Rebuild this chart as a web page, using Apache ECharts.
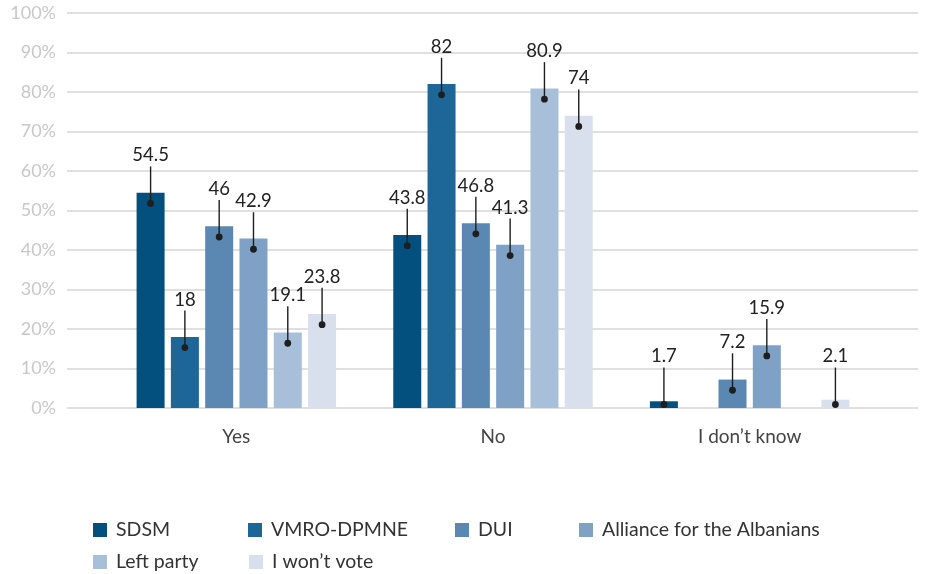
<!DOCTYPE html>
<html>
<head>
<meta charset="utf-8">
<script src="https://cdn.jsdelivr.net/npm/echarts@6/dist/echarts.min.js"></script>
<style>
  html, body { margin: 0; padding: 0; background: #fff; }
  #chart { width: 930px; height: 574px; }
</style>
</head>
<body>
<div id="chart"></div>
<script>
var categories = ["Yes", "No", "I don\u2019t know"];
var parties = ["SDSM", "VMRO-DPMNE", "DUI", "Alliance for the Albanians", "Left party", "I won\u2019t vote"];
var sdsm = [54.5, 43.8, 1.7];
var vmro = [18, 82, null];
var dui = [46, 46.8, 7.2];
var alliance = [42.9, 41.3, 15.9];
var leftParty = [19.1, 80.9, null];
var wontVote = [23.8, 74, 2.1];
var yTicks = [0, 10, 20, 30, 40, 50, 60, 70, 80, 90, 100];

var seriesValues = [sdsm, vmro, dui, alliance, leftParty, wontVote];
var colors = ["#03507f", "#1c6798", "#5b87b3", "#7fa1c5", "#a8bfd9", "#d8e0ee"];
var barW = 28;
var gapPct = 0.225;
var step = barW * (1 + gapPct);
var font = "Lato";

// leader line + dot + value label, placed with the axis scale
function labelRenderer(idx) {
  return function (params, api) {
    var v = api.value(1);
    if (v == null || isNaN(v)) return;
    var top = api.coord([api.value(0), v]);
    var base = api.coord([api.value(0), 0]);
    var x = top[0] + (idx - (parties.length - 1) / 2) * step;
    var dotY = Math.min(top[1] + 10.7, base[1] - 3.5);
    return {
      type: "group",
      children: [
        { type: "line", shape: { x1: x, y1: dotY, x2: x, y2: dotY - 37 }, style: { stroke: "#1e1e1e", lineWidth: 1.4 } },
        { type: "circle", shape: { cx: x, cy: dotY, r: 3.4 }, style: { fill: "#1e1e1e" } },
        { type: "text", x: x, y: dotY - 48, style: { text: String(v), align: "center", verticalAlign: "middle", fill: "#222", fontSize: 18.5, fontFamily: font } }
      ]
    };
  };
}

var series = [];
seriesValues.forEach(function (vals, i) {
  series.push({
    name: parties[i],
    type: "bar",
    xAxisIndex: 1,
    yAxisIndex: 1,
    barWidth: barW,
    barGap: (gapPct * 100) + "%",
    itemStyle: { color: colors[i] },
    data: vals
  });
});
seriesValues.forEach(function (vals, i) {
  series.push({
    type: "custom",
    xAxisIndex: 1,
    yAxisIndex: 1,
    z: 5,
    silent: true,
    renderItem: labelRenderer(i),
    data: vals.map(function (v, k) { return [k, v == null ? "-" : v]; })
  });
});

var legendPos = [[93, 520], [248, 520], [455, 520], [579, 520], [93, 552], [249, 552]];
var legends = parties.map(function (p, i) {
  return {
    data: [p],
    left: legendPos[i][0],
    top: legendPos[i][1],
    padding: 0,
    icon: "rect",
    itemWidth: 14,
    itemHeight: 14,
    textStyle: { fontFamily: font, fontSize: 19.5, color: "#333", lineHeight: 20, padding: [0, 0, 0, 4] }
  };
});

var chart = echarts.init(document.getElementById("chart"));
chart.setOption({
  backgroundColor: "#fff",
  animation: false,
  legend: legends,
  grid: [
    { left: 67, right: 12, top: 13, bottom: 166 },
    { left: 108, right: 52, top: 13, bottom: 166 }
  ],
  xAxis: [
    { type: "category", gridIndex: 0, show: false, data: categories },
    {
      type: "category",
      gridIndex: 1,
      data: categories,
      axisLine: { show: false },
      axisTick: { show: false },
      axisLabel: { margin: 19, fontFamily: font, fontSize: 19, color: "#444" }
    }
  ],
  yAxis: [
    {
      type: "value",
      gridIndex: 0,
      min: yTicks[0],
      max: yTicks[yTicks.length - 1],
      interval: 10,
      axisLine: { show: false },
      axisTick: { show: false },
      axisLabel: { margin: 11, fontFamily: font, fontSize: 18, color: "#c8c8c8", formatter: function (v) { return v + "%"; } },
      splitLine: { lineStyle: { color: "#d6d6d6", width: 1.5 } }
    },
    { type: "value", gridIndex: 1, min: 0, max: 100, show: false, splitLine: { show: false } }
  ],
  series: series
});
</script>
</body>
</html>
